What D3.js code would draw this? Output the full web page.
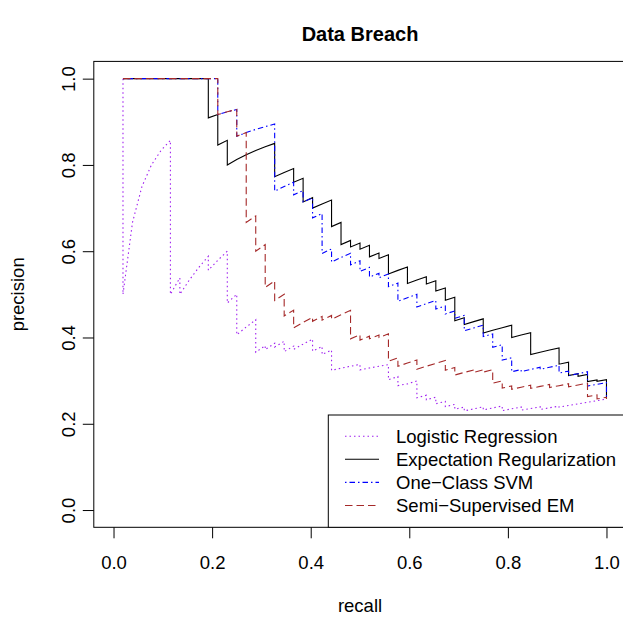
<!DOCTYPE html>
<html><head><meta charset="utf-8">
<script src="https://cdn.jsdelivr.net/npm/d3@7"></script>
<style>body{margin:0;background:#fff}svg{display:block}text{font-family:"Liberation Sans",Arial,Helvetica,sans-serif;fill:#000}</style>
</head><body><svg id="c" width="623" height="618"></svg>
<script>
const chartTitle = "Data Breach";
const xLabel = "recall";
const yLabel = "precision";
const xTicks = [0, 0.2, 0.4, 0.6, 0.8, 1.0];
const yTicks = [0, 0.2, 0.4, 0.6, 0.8, 1.0];
const seriesNames = ["Logistic Regression", "Expectation Regularization", "One\u2212Class SVM", "Semi\u2212Supervised EM"];

// [recall, precision] vertices
const lrPoints = [[0.0192,1],[0.0192,0.5],[0.0385,0.6667],[0.0577,0.75],[0.0769,0.8],[0.0962,0.8333],[0.1154,0.8571],[0.1154,0.5],[0.1346,0.5385],[0.1346,0.5],[0.1538,0.5333],[0.1731,0.5625],[0.1923,0.5882],[0.1923,0.5556],[0.2115,0.5789],[0.2308,0.6],[0.2308,0.48],[0.25,0.5],[0.25,0.4063],[0.2692,0.4242],[0.2885,0.4412],[0.2885,0.3659],[0.3077,0.381],[0.3077,0.3721],[0.3269,0.3864],[0.3269,0.3778],[0.3462,0.3913],[0.3462,0.3673],[0.3654,0.38],[0.3654,0.3725],[0.3846,0.3846],[0.4038,0.3962],[0.4038,0.3684],[0.4231,0.3793],[0.4231,0.3607],[0.4423,0.371],[0.4423,0.3239],[0.4615,0.3288],[0.4808,0.3333],[0.5,0.3377],[0.5,0.325],[0.5192,0.3293],[0.5385,0.3333],[0.5577,0.3372],[0.5577,0.3021],[0.5769,0.3093],[0.5769,0.2885],[0.5962,0.2925],[0.6154,0.2991],[0.6154,0.2602],[0.6346,0.2661],[0.6346,0.2558],[0.6538,0.2615],[0.6538,0.2464],[0.6731,0.2518],[0.6731,0.2397],[0.6923,0.2449],[0.6923,0.2338],[0.7115,0.2387],[0.7115,0.2298],[0.7308,0.2346],[0.75,0.2393],[0.75,0.2321],[0.7692,0.2367],[0.7885,0.2412],[0.7885,0.2303],[0.8077,0.2346],[0.8269,0.2389],[0.8269,0.2315],[0.8462,0.2353],[0.8654,0.2394],[0.8654,0.2332],[0.8846,0.2371],[0.9038,0.241],[0.9038,0.2386],[0.9231,0.2424],[0.9423,0.2462],[0.9615,0.25],[0.9808,0.2537],[1,0.2574]];

const erPoints = [[0.0192,1],[0.1923,1],[0.1923,0.9091],[0.2115,0.9167],[0.2115,0.8462],[0.2308,0.8571],[0.2308,0.8],[0.25,0.8125],[0.2692,0.8235],[0.2885,0.8333],[0.3077,0.8421],[0.3269,0.85],[0.3269,0.7727],[0.3462,0.7826],[0.3654,0.7917],[0.3654,0.76],[0.3846,0.7692],[0.3846,0.7143],[0.4038,0.7241],[0.4038,0.7],[0.4231,0.7097],[0.4423,0.7188],[0.4423,0.6571],[0.4615,0.6667],[0.4615,0.6154],[0.4808,0.625],[0.4808,0.6098],[0.5,0.619],[0.5,0.6047],[0.5192,0.6136],[0.5192,0.587],[0.5385,0.5957],[0.5385,0.5833],[0.5577,0.5918],[0.5577,0.5472],[0.5769,0.5556],[0.5962,0.5636],[0.5962,0.5254],[0.6154,0.5333],[0.6346,0.541],[0.6346,0.5238],[0.6538,0.5313],[0.6538,0.5075],[0.6731,0.5147],[0.6731,0.4861],[0.6923,0.4932],[0.6923,0.439],[0.7115,0.4458],[0.7115,0.4302],[0.7308,0.4368],[0.75,0.4432],[0.75,0.4105],[0.7692,0.4167],[0.7885,0.4227],[0.8077,0.4286],[0.8077,0.4],[0.8269,0.4057],[0.8462,0.4112],[0.8462,0.3607],[0.8654,0.3659],[0.8846,0.371],[0.9038,0.376],[0.9038,0.3381],[0.9231,0.3429],[0.9231,0.3117],[0.9423,0.3161],[0.9423,0.3101],[0.9615,0.3145],[0.9615,0.2976],[0.9808,0.3018],[0.9808,0.2982],[1,0.3023],[1,0.2574]];

const svmPoints = [[0.0192,1],[0.2115,1],[0.2115,0.9167],[0.2308,0.9231],[0.25,0.9286],[0.25,0.8667],[0.2692,0.875],[0.2885,0.8824],[0.3077,0.8889],[0.3269,0.8947],[0.3269,0.7391],[0.3462,0.75],[0.3654,0.76],[0.3654,0.7308],[0.3846,0.7407],[0.3846,0.7143],[0.4038,0.7241],[0.4038,0.6774],[0.4231,0.6875],[0.4231,0.5946],[0.4423,0.6053],[0.4423,0.575],[0.4615,0.5854],[0.4808,0.5952],[0.4808,0.5682],[0.5,0.5778],[0.5,0.5532],[0.5192,0.5625],[0.5192,0.54],[0.5385,0.549],[0.5385,0.5385],[0.5577,0.5472],[0.5577,0.5179],[0.5769,0.5263],[0.5769,0.4839],[0.5962,0.4921],[0.6154,0.5],[0.6154,0.4706],[0.6346,0.4783],[0.6538,0.4857],[0.6538,0.4658],[0.6731,0.473],[0.6731,0.4545],[0.6923,0.4615],[0.6923,0.4444],[0.7115,0.4512],[0.7115,0.4157],[0.7308,0.4222],[0.75,0.4286],[0.75,0.4021],[0.7692,0.4082],[0.7692,0.3774],[0.7885,0.3832],[0.7885,0.3475],[0.8077,0.3529],[0.8077,0.3206],[0.8269,0.3258],[0.8269,0.3209],[0.8462,0.3259],[0.8654,0.3309],[0.8654,0.3261],[0.8846,0.3309],[0.9038,0.3357],[0.9038,0.3176],[0.9231,0.3221],[0.9231,0.3117],[0.9423,0.3161],[0.9615,0.3205],[0.9615,0.2874],[0.9808,0.2914],[1,0.2955],[1,0.2574]];

const emPoints = [[0.0192,1],[0.2115,1],[0.2115,0.9167],[0.2308,0.9231],[0.25,0.9286],[0.25,0.8667],[0.2692,0.875],[0.2692,0.6667],[0.2885,0.6818],[0.2885,0.6],[0.3077,0.6154],[0.3077,0.5161],[0.3269,0.5313],[0.3269,0.4857],[0.3462,0.5],[0.3462,0.45],[0.3654,0.4634],[0.3654,0.4222],[0.3846,0.4348],[0.4038,0.4468],[0.4038,0.4375],[0.4231,0.449],[0.4231,0.44],[0.4423,0.451],[0.4423,0.4423],[0.4615,0.4528],[0.4808,0.463],[0.4808,0.3968],[0.5,0.4063],[0.5,0.3939],[0.5192,0.403],[0.5192,0.3971],[0.5385,0.4058],[0.5385,0.4],[0.5577,0.4085],[0.5577,0.3452],[0.5769,0.3529],[0.5769,0.3333],[0.5962,0.3407],[0.6154,0.3478],[0.6154,0.3265],[0.6346,0.3333],[0.6538,0.34],[0.6731,0.3465],[0.6731,0.3241],[0.6923,0.3303],[0.6923,0.313],[0.7115,0.319],[0.7308,0.3248],[0.7308,0.3193],[0.75,0.325],[0.75,0.3197],[0.7692,0.3252],[0.7692,0.2941],[0.7885,0.2993],[0.7885,0.2828],[0.8077,0.2877],[0.8077,0.28],[0.8269,0.2848],[0.8462,0.2895],[0.8462,0.2821],[0.8654,0.2866],[0.8846,0.2911],[0.8846,0.284],[0.9038,0.2883],[0.9231,0.2927],[0.9231,0.2857],[0.9423,0.2899],[0.9615,0.2941],[0.9615,0.2632],[0.9808,0.267],[0.9808,0.2576],[1,0.2613],[1,0.2574]];

const seriesColors = ["#A020F0", "#000000", "#0000FF", "#A52A2A"];
const seriesDash = ["1.5,3", null, "1.5,3,5.5,3", "7.5,4"];
const seriesData = [lrPoints, erPoints, svmPoints, emPoints];

const svg = d3.select("#c");
const L = 93.8, R = 626.2, T = 61.4, B = 527.3;
const x = d3.scaleLinear().domain([-0.04, 1.04]).range([L, R]);
const y = d3.scaleLinear().domain([-0.04, 1.04]).range([B, T]);

// title
svg.append("text").attr("x", 360).attr("y", 41).attr("text-anchor", "middle")
  .style("font-weight", "bold").style("font-size", "20px").text(chartTitle);

// lines
const line = d3.line().x(d => x(d[0])).y(d => y(d[1]));
const g = svg.append("g");
seriesData.forEach((pts, i) => {
  g.append("path").attr("d", line(pts)).attr("fill", "none")
    .attr("stroke", seriesColors[i]).attr("stroke-width", 1.1)
    .attr("stroke-dasharray", seriesDash[i]);
});

// axes
const fmt = d3.format(".1f");
const xAxis = svg.append("g").attr("transform", `translate(0,${B})`)
  .call(d3.axisBottom(x).tickValues(xTicks).tickFormat(fmt).tickSize(11).tickPadding(19));
const yAxis = svg.append("g").attr("transform", `translate(${L},0)`)
  .call(d3.axisLeft(y).tickValues(yTicks).tickFormat(fmt).tickSize(11).tickPadding(6));
[xAxis, yAxis].forEach(a => {
  a.select(".domain").remove();
  a.selectAll("line").attr("stroke", "#000").attr("stroke-width", 1);
  a.selectAll("text").style("font-size", "18.5px").style("font-family", "'Liberation Sans', Arial, sans-serif").attr("fill", "#000");
});
xAxis.selectAll("text").attr("dy", null).attr("y", 41.5);
yAxis.selectAll("text").attr("x", null).attr("dy", null).attr("dx", null)
  .attr("text-anchor", "middle")
  .attr("transform", "translate(-19,0) rotate(-90)");

// box
svg.append("rect").attr("x", L).attr("y", T).attr("width", R - L).attr("height", B - T)
  .attr("fill", "none").attr("stroke", "#000").attr("stroke-width", 1);

// axis labels
svg.append("text").attr("x", 360).attr("y", 612).attr("text-anchor", "middle")
  .style("font-size", "18.5px").text(xLabel);
svg.append("text").attr("transform", `translate(23.5,${(T + B) / 2}) rotate(-90)`)
  .attr("text-anchor", "middle").style("font-size", "18.5px").text(yLabel);

// legend
const leg = svg.append("g");
leg.append("rect").attr("x", 328.3).attr("y", 415).attr("width", R - 328.3).attr("height", B - 415)
  .attr("fill", "#fff").attr("stroke", "#000").attr("stroke-width", 1);
seriesNames.forEach((name, i) => {
  const by = 442.7 + i * 23.1;
  leg.append("line").attr("x1", 345).attr("x2", 379).attr("y1", by - 6.5).attr("y2", by - 6.5)
    .attr("stroke", seriesColors[i]).attr("stroke-width", 1.1).attr("stroke-dasharray", seriesDash[i]);
  leg.append("text").attr("x", 396).attr("y", by).style("font-size", "18.5px").text(name);
});
</script></body></html>
